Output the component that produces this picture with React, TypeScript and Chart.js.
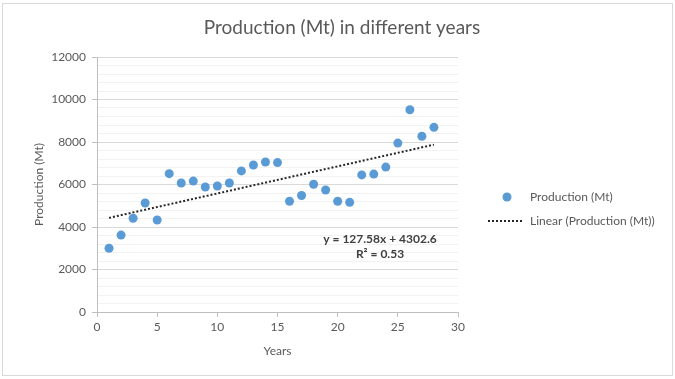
import React, { useEffect, useRef } from "react";
import { Chart, registerables } from "chart.js";

Chart.register(...registerables);

const titleText = "Production (Mt) in different years";
const seriesName = "Production (Mt)";
const trendName = "Linear (Production (Mt))";
const xAxisTitle = "Years";
const yAxisTitle = "Production (Mt)";
const years = [1, 2, 3, 4, 5, 6, 7, 8, 9, 10, 11, 12, 13, 14, 15, 16, 17, 18, 19, 20, 21, 22, 23, 24, 25, 26, 27, 28];
const production = [3000, 3620, 4410, 5130, 4330, 6510, 6070, 6160, 5880, 5930, 6070, 6640, 6920, 7060, 7030, 5210, 5480, 6010, 5740, 5210, 5160, 6450, 6490, 6820, 7950, 9520, 8270, 8690];
const trendSlope = 127.58;
const trendIntercept = 4302.6;
const equationLines = ["y = 127.58x + 4302.6", "R² = 0.53"];

const FONT = "Lato, 'Open Sans', sans-serif";
const TEXT = "#595959";
const BLUE = "#5b9bd5";

export default function App() {
  const ref = useRef<HTMLCanvasElement | null>(null);
  useEffect(() => {
    document.body.style.margin = "0";
    const canvas = ref.current!;
    const xFirst = years[0];
    const xLast = years[years.length - 1];
    const decor = {
      id: "decor",
      afterDraw(chart: any) {
        const ctx = chart.ctx;
        ctx.save();
        // outer border
        ctx.strokeStyle = "#d9d9d9";
        ctx.lineWidth = 1;
        ctx.strokeRect(2.5, 3.5, 670, 372);
        // title
        ctx.fillStyle = TEXT;
        ctx.font = `19px ${FONT}`;
        ctx.textAlign = "center";
        ctx.textBaseline = "middle";
        ctx.fillText(titleText, 342, 28);
        // equation
        ctx.font = `bold 12px ${FONT}`;
        ctx.fillStyle = "#404040";
        ctx.fillText(equationLines[0], 380, 239);
        ctx.fillText(equationLines[1], 380, 254);
        // legend
        ctx.font = `12px ${FONT}`;
        ctx.textAlign = "left";
        ctx.beginPath();
        ctx.arc(507, 197, 4.5, 0, Math.PI * 2);
        ctx.fillStyle = BLUE;
        ctx.fill();
        ctx.fillStyle = TEXT;
        ctx.fillText(seriesName, 530, 197);
        ctx.strokeStyle = "#262626";
        ctx.lineWidth = 2;
        ctx.setLineDash([2, 2]);
        ctx.beginPath();
        ctx.moveTo(488, 221);
        ctx.lineTo(522, 221);
        ctx.stroke();
        ctx.setLineDash([]);
        ctx.fillText(trendName, 530, 221);
        ctx.restore();
      },
    };
    const chart = new Chart(canvas, {
      type: "scatter",
      data: {
        datasets: [
          {
            label: seriesName,
            data: years.map((x, i) => ({ x, y: production[i] })),
            backgroundColor: BLUE,
            borderColor: BLUE,
            pointRadius: 4.5,
            pointHoverRadius: 4.5,
            borderWidth: 0,
            order: 2,
          },
          {
            label: trendName,
            type: "line",
            data: [
              { x: xFirst, y: trendIntercept + trendSlope * xFirst },
              { x: xLast, y: trendIntercept + trendSlope * xLast },
            ],
            borderColor: "#262626",
            borderWidth: 2,
            borderDash: [2, 2],
            pointRadius: 0,
            fill: false,
            order: 1,
          } as any,
        ],
      },
      options: {
        animation: false,
        responsive: false,
        devicePixelRatio: 1,
        layout: { padding: { left: 0, right: 217, top: 57, bottom: 17 } },
        plugins: {
          legend: { display: false },
          title: { display: false },
          tooltip: { enabled: false },
        },
        scales: {
          x: {
            type: "linear",
            min: 0,
            max: 30,
            ticks: { stepSize: 5, color: TEXT, font: { family: FONT, size: 12 }, padding: 3 },
            grid: { drawOnChartArea: false, tickLength: 5, color: "#bfbfbf" },
            border: { color: "#bfbfbf" },
            title: {
              display: true,
              text: xAxisTitle,
              color: TEXT,
              font: { family: FONT, size: 12 },
              padding: { top: 0, bottom: 4 },
            },
            afterFit: (s: any) => {
              s.height = 50;
            },
          },
          y: {
            min: 0,
            max: 12000,
            ticks: {
              stepSize: 400,
              color: TEXT,
              font: { family: FONT, size: 12 },
              padding: 6,
              autoSkip: false,
              callback: (v: any) => (Number(v) % 2000 === 0 ? String(v) : ""),
            },
            grid: {
              tickLength: 5,
              color: (c: any) => (c.tick && c.tick.value % 2000 === 0 ? "#d9d9d9" : "#f2f2f2"),
              tickColor: (c: any) => (c.tick && c.tick.value % 2000 === 0 ? "#bfbfbf" : "rgba(0,0,0,0)"),
            },
            border: { color: "#bfbfbf" },
            title: {
              display: true,
              text: yAxisTitle,
              color: TEXT,
              font: { family: FONT, size: 12 },
              padding: { top: 32, bottom: 0 },
            },
            afterFit: (s: any) => {
              s.width = 97;
            },
          },
        },
      },
      plugins: [decor],
    });
    return () => chart.destroy();
  }, []);
  return (
    <div style={{ position: "fixed", left: 0, top: 0, width: 675, height: 379, background: "#fff" }}>
      <canvas ref={ref} width={675} height={379} style={{ width: 675, height: 379 }} />
    </div>
  );
}
